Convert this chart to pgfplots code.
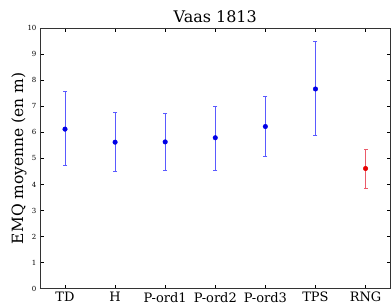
\documentclass[border=0pt]{standalone}
\usepackage{fontspec}
\setmainfont{DejaVu Serif}
\usepackage{pgfplots}
\pgfplotsset{compat=1.18}
\definecolor{mblue}{RGB}{0,0,230}
\definecolor{lblue}{RGB}{90,90,255}
\definecolor{mred}{RGB}{230,0,0}
\definecolor{lred}{RGB}{235,90,105}
\begin{document}
\begin{tikzpicture}
\begin{axis}[
  scale only axis,
  width=351pt, height=261pt,
  xmin=-0.5, xmax=6.5, ymin=0, ymax=10,
  xtick={0,1,2,3,4,5,6},
  xticklabels={TD,H,P-ord1,P-ord2,P-ord3,TPS,RNG},
  ytick={0,1,...,10},
  tick align=inside,
  tick pos=both,
  major tick length=4pt,
  tick style={black, line width=0.5pt},
  axis line style={black!80, line width=0.8pt},
  xticklabel style={font=\fontsize{13}{14}\selectfont},
  yticklabel style={font=\fontsize{7}{8}\selectfont},
  /pgf/number format/assume math mode=true,
  title={Vaas 1813},
  title style={font=\fontsize{16}{18}\selectfont, yshift=-4pt},
  ylabel={EMQ moyenne (en m)},
  ylabel style={font=\fontsize{15.5}{17}\selectfont, yshift=-6pt},
  xticklabel shift=0pt,
]
% error bar stems (low, high)
\addplot[draw=lblue, line width=1pt, forget plot] coordinates {(0,4.72) (0,7.55)};
\addplot[draw=lblue, line width=1pt, forget plot] coordinates {(1,4.50) (1,6.75)};
\addplot[draw=lblue, line width=1pt, forget plot] coordinates {(2,4.55) (2,6.73)};
\addplot[draw=lblue, line width=1pt, forget plot] coordinates {(3,4.52) (3,6.98)};
\addplot[draw=lblue, line width=1pt, forget plot] coordinates {(4,5.07) (4,7.37)};
\addplot[draw=lblue, line width=1pt, forget plot] coordinates {(5,5.86) (5,9.48)};
\addplot[draw=lred, line width=1pt, forget plot] coordinates {(6,3.86) (6,5.35)};
% caps
\addplot[only marks, mark=-, mark size=2pt, lblue, mark options={line width=0.9pt}] coordinates {
  (0,4.72) (0,7.55) (1,4.50) (1,6.75) (2,4.55) (2,6.73)
  (3,4.52) (3,6.98) (4,5.07) (4,7.37) (5,5.86) (5,9.48)};
\addplot[only marks, mark=-, mark size=2pt, lred, mark options={line width=0.9pt}] coordinates {
  (6,3.86) (6,5.35)};
% means
\addplot[only marks, mark=*, mark size=2.3pt, mark options={fill=mblue, draw=mblue}] coordinates {
  (0,6.12) (1,5.62) (2,5.63) (3,5.79) (4,6.22) (5,7.66)};
\addplot[only marks, mark=*, mark size=2.3pt, mark options={fill=mred, draw=mred}] coordinates {
  (6,4.61)};
\end{axis}
\pgfresetboundingbox
\path ([shift={(-40pt,-14pt)}]current axis.south west) rectangle ([shift={(0.4pt,28pt)}]current axis.north east);
\end{tikzpicture}
\end{document}
